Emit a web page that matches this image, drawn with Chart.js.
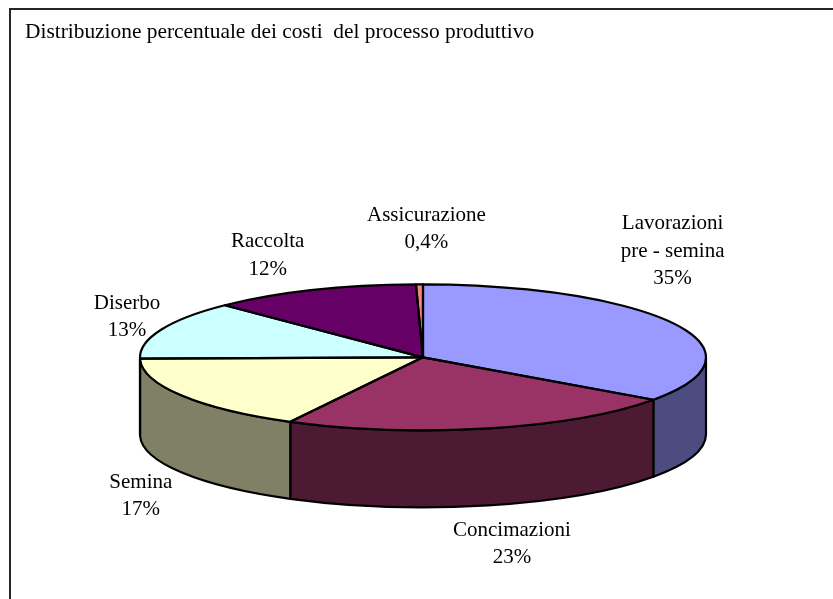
<!DOCTYPE html>
<html>
<head>
<meta charset="utf-8">
<script src="https://cdn.jsdelivr.net/npm/chart.js@4.4.0/dist/chart.umd.min.js"></script>
<style>
  html, body { margin: 0; padding: 0; background: #fff; overflow: hidden; }
  #frame { position: absolute; left: 9px; top: 8px; width: 840px; height: 610px; border: 2px solid #262626; }
  #chart { position: absolute; left: 0; top: 0; }
</style>
</head>
<body>
<div id="frame"></div>
<canvas id="chart" width="833" height="599"></canvas>
<script>
// cost items and their share of the total (percent)
const categories = [['Lavorazioni', 'pre - semina'], ['Concimazioni'], ['Semina'], ['Diserbo'], ['Raccolta'], ['Assicurazione']];
const shares = [35, 23, 17, 13, 12, 0.4];

const topColors = ['#9999FF', '#993366', '#FFFFCC', '#CCFFFF', '#660066', '#FF8080'];
const sideColors = ['#4C4C80', '#4D1A33', '#808066', '#668080', '#330033', '#804040'];

// label placement: offset from the slice's rim midpoint
const labelNudge = [[-2, -74], [24, 37], [-41, 22], [-34, -14], [-45, -36], [7, -57]];

const RADIUS = 283;
const TILT = 73 / 283;   // vertical squash of the top face
const DEPTH = 77;
const FONT = '"Liberation Serif", "Times New Roman", serif';
const LINE_H = 27.5;

function fmtPct(v) {
    return String(v).replace('.', ',') + '%';
}

function sidePath(ctx, a, s, e) {
    const rx = a.outerRadius, ry = a.outerRadius * TILT;
    ctx.beginPath();
    ctx.ellipse(a.x, a.y, rx, ry, 0, s, e);
    ctx.lineTo(a.x + rx * Math.cos(e), a.y + ry * Math.sin(e) + DEPTH);
    ctx.ellipse(a.x, a.y + DEPTH, rx, ry, 0, e, s, true);
    ctx.closePath();
}

const pie3d = {
    id: 'pie3d',
    beforeDatasetsDraw(chart) {
        const ctx = chart.ctx;
        const arcs = chart.getDatasetMeta(0).data;
        ctx.save();
        ctx.lineWidth = 2.2;
        ctx.lineJoin = 'round';
        ctx.strokeStyle = '#000';
        // outer wall, only the front half (0..PI) can be seen
        arcs.forEach((a, i) => {
            const s = Math.max(a.startAngle, 0);
            const e = Math.min(a.endAngle, Math.PI);
            if (e <= s) return;
            sidePath(ctx, a, s, e);
            ctx.fillStyle = sideColors[i];
            ctx.fill();
            ctx.stroke();
        });
        ctx.restore();

        // squash the library's round pie into the top ellipse
        const c = arcs[0];
        ctx.save();
        ctx.translate(c.x, c.y);
        ctx.scale(1, TILT);
        ctx.translate(-c.x, -c.y);
    },
    afterDatasetsDraw(chart) {
        const ctx = chart.ctx;
        ctx.restore();
        const arcs = chart.getDatasetMeta(0).data;

        ctx.save();
        ctx.lineWidth = 2.2;
        ctx.lineJoin = 'round';
        ctx.strokeStyle = '#000';
        arcs.forEach(a => {
            const rx = a.outerRadius, ry = a.outerRadius * TILT;
            ctx.beginPath();
            ctx.moveTo(a.x, a.y);
            ctx.ellipse(a.x, a.y, rx, ry, 0, a.startAngle, a.endAngle);
            ctx.closePath();
            ctx.stroke();
        });

        // data labels
        ctx.fillStyle = '#000';
        ctx.font = '21px ' + FONT;
        ctx.textAlign = 'center';
        ctx.textBaseline = 'alphabetic';
        arcs.forEach((a, i) => {
            const rx = a.outerRadius, ry = a.outerRadius * TILT;
            const mid = (a.startAngle + a.endAngle) / 2;
            const sin = Math.sin(mid);
            let x = a.x + rx * Math.cos(mid) + labelNudge[i][0];
            let y = a.y + ry * sin + (sin > 0 ? DEPTH : 0) + labelNudge[i][1];
            const lines = categories[i].concat(fmtPct(shares[i]));
            let by = y - (lines.length - 1) * LINE_H / 2 + 7;
            lines.forEach(t => {
                ctx.fillText(t, x, by);
                by += LINE_H;
            });
        });
        ctx.restore();
    }
};

new Chart(document.getElementById('chart'), {
    type: 'pie',
    data: {
        labels: categories,
        datasets: [{
            data: shares,
            backgroundColor: topColors,
            borderWidth: 0,
            clip: false
        }]
    },
    options: {
        responsive: false,
        animation: false,
        events: [],
        radius: RADIUS,
        layout: { padding: { left: 25, right: 12, top: 20, bottom: 0 } },
        plugins: {
            legend: { display: false },
            tooltip: { enabled: false },
            title: {
                display: true,
                text: 'Distribuzione percentuale dei costi  del processo produttivo',
                align: 'start',
                color: '#000',
                font: { family: FONT, size: 21.4, weight: 'normal', lineHeight: 1.2 },
                padding: { top: 0, bottom: 70 }
            }
        }
    },
    plugins: [pie3d]
});
</script>
</body>
</html>
